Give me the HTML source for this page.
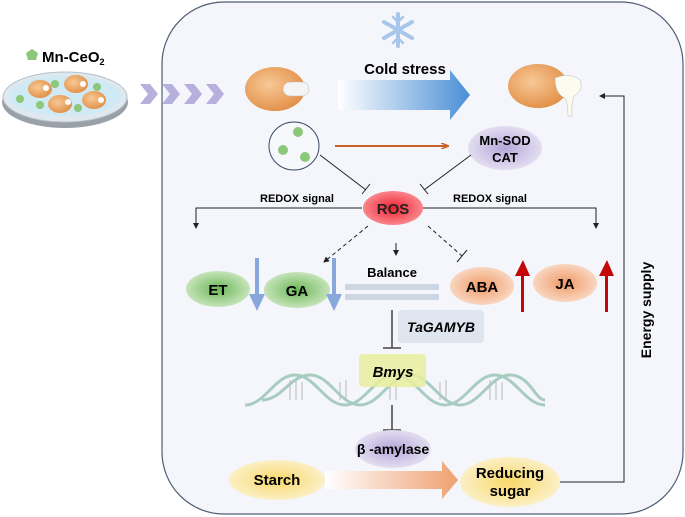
<!DOCTYPE html>
<html><head><meta charset="utf-8"><style>
html,body{margin:0;padding:0;background:#fff}
svg{display:block;font-family:"Liberation Sans",sans-serif;font-weight:bold}
</style></head><body>
<svg width="685" height="517" viewBox="0 0 685 517">
<defs>
<linearGradient id="cold" x1="0" x2="1"><stop offset="0" stop-color="#fff"/><stop offset="1" stop-color="#4a8fd6"/></linearGradient>
<linearGradient id="sug" x1="0" x2="1"><stop offset="0" stop-color="#fff"/><stop offset="1" stop-color="#eea070"/></linearGradient>
<radialGradient id="seed" cx="0.4" cy="0.4" r="0.7"><stop offset="0" stop-color="#f8c896"/><stop offset="1" stop-color="#e08a40"/></radialGradient>
<radialGradient id="grn" cx="0.5" cy="0.5" r="0.6"><stop offset="0" stop-color="#6cb85a"/><stop offset="1" stop-color="#d8eccc"/></radialGradient>
<radialGradient id="org" cx="0.5" cy="0.5" r="0.6"><stop offset="0" stop-color="#ef9a66"/><stop offset="1" stop-color="#fbe2d2"/></radialGradient>
<radialGradient id="yel" cx="0.5" cy="0.5" r="0.6"><stop offset="0" stop-color="#f8d868"/><stop offset="1" stop-color="#fcf4d8"/></radialGradient>
<radialGradient id="pur" cx="0.5" cy="0.5" r="0.6"><stop offset="0" stop-color="#b4a8d8"/><stop offset="1" stop-color="#ece8f6"/></radialGradient>
<radialGradient id="ros" cx="0.5" cy="0.5" r="0.6"><stop offset="0" stop-color="#f02030"/><stop offset="1" stop-color="#fc9aa0"/></radialGradient>
<marker id="ah" markerWidth="6" markerHeight="6" refX="5" refY="3" orient="auto"><path d="M0,0 L6,3 L0,6z" fill="#222"/></marker>
<marker id="oh" markerWidth="8" markerHeight="6" refX="7" refY="3" orient="auto" markerUnits="userSpaceOnUse"><path d="M0,0 L8,3 L0,6" fill="none" stroke="#c8622a" stroke-width="1.5"/></marker>
</defs>
<!-- dish -->
<ellipse cx="65" cy="102" rx="63" ry="26" fill="#9aa0a8"/>
<ellipse cx="65" cy="97" rx="62" ry="25" fill="#dfe8ee" stroke="#b8c0c8"/>
<ellipse cx="65" cy="96" rx="56" ry="20" fill="#cfeaf4"/>
<g fill="url(#seed)">
<ellipse cx="40" cy="89" rx="12" ry="9"/><ellipse cx="76" cy="84" rx="12" ry="9"/>
<ellipse cx="60" cy="104" rx="12" ry="9"/><ellipse cx="94" cy="100" rx="12" ry="9"/></g>
<g fill="#fff"><circle cx="46" cy="88" r="3"/><circle cx="83" cy="84" r="3"/><circle cx="68" cy="102" r="3"/><circle cx="101" cy="100" r="3"/></g>
<g fill="#8cc77a"><circle cx="55" cy="84" r="4"/><circle cx="97" cy="87" r="4"/><circle cx="20" cy="99" r="4"/><circle cx="40" cy="105" r="4"/><circle cx="78" cy="108" r="4"/></g>
<polygon points="32,49 38,53 36,60 28,60 26,53" fill="#8cc77a"/>
<text x="42" y="62" font-size="15">Mn-CeO<tspan font-size="9" dy="3">2</tspan></text>
<!-- panel -->
<rect x="162" y="2" width="521" height="512" rx="62" fill="#f4f6fb" stroke="#4e5c74" stroke-width="1.2"/>
<g fill="#b8b0dc"><path d="M140,84 h10 l8,10 l-8,10 h-10 l8,-10z"/><path d="M162,84 h10 l8,10 l-8,10 h-10 l8,-10z"/><path d="M184,84 h10 l8,10 l-8,10 h-10 l8,-10z"/><path d="M206,84 h10 l8,10 l-8,10 h-10 l8,-10z"/></g>
<!-- snowflake -->
<g stroke="#a8c6ec" stroke-width="4" stroke-linecap="round" fill="none"><line x1="398" y1="14" x2="398" y2="46"/><line x1="384" y1="22" x2="412" y2="38"/><line x1="384" y1="38" x2="412" y2="22"/>
<path d="M393,17 l5,5 l5,-5 M393,43 l5,-5 l5,5" stroke-width="2.5"/></g>
<text x="405" y="74" font-size="15" text-anchor="middle">Cold stress</text>
<path d="M338,80 H450 V70 L470,95 L450,120 V110 H338z" fill="url(#cold)"/>
<!-- seeds -->
<ellipse cx="275" cy="89" rx="30" ry="22" fill="url(#seed)"/>
<path d="M290,82 h12 a7,7 0 0 1 0,14 h-12 a7,7 0 0 1 0,-14z" fill="#f4f4f4" stroke="#bbb" stroke-width=".5"/>
<ellipse cx="538" cy="86" rx="30" ry="22" fill="url(#seed)"/>
<path d="M555,78 q15,-6 25,2 q4,10 -6,16 q-3,8 -2,20 l-4,0 q0,-14 -3,-18 q-10,-4 -10,-20z" fill="#fbfbf0" stroke="#bbb" stroke-width=".5"/>
<!-- circle of pentagons -->
<ellipse cx="294" cy="146" rx="25" ry="24" fill="#f6f8fb" stroke="#3a4a6a"/>
<g fill="#8cc77a"><circle cx="298" cy="132" r="5"/><circle cx="283" cy="150" r="5"/><circle cx="305" cy="157" r="5"/></g>
<line x1="335" y1="146" x2="448" y2="146" stroke="#c8622a" stroke-width="2" marker-end="url(#oh)"/>
<ellipse cx="505" cy="148" rx="37" ry="22" fill="url(#pur)"/>
<text x="505" y="145" font-size="13" text-anchor="middle">Mn-SOD</text>
<text x="505" y="162" font-size="13" text-anchor="middle">CAT</text>
<g stroke="#222" stroke-width="1" fill="none">
<line x1="320" y1="155" x2="366" y2="190"/><line x1="362" y1="194" x2="370" y2="184"/>
<line x1="471" y1="155" x2="424" y2="190"/><line x1="420" y1="184" x2="428" y2="194"/>
<polyline points="362,208 196,208 196,228" marker-end="url(#ah)"/>
<polyline points="422,208 596,208 596,228" marker-end="url(#ah)"/>
<line x1="368" y1="226" x2="324" y2="262" stroke-dasharray="4,3" marker-end="url(#ah)"/>
<line x1="396" y1="243" x2="396" y2="255" marker-end="url(#ah)"/>
<line x1="428" y1="226" x2="462" y2="256" stroke-dasharray="4,3"/><line x1="457" y1="262" x2="467" y2="250"/>
<line x1="392" y1="310" x2="392" y2="348" stroke="#444" stroke-width="1.5"/><line x1="383" y1="348" x2="401" y2="348" stroke="#444" stroke-width="1.5"/>
<line x1="392" y1="405" x2="392" y2="430" stroke="#444" stroke-width="1.5"/><line x1="383" y1="430" x2="401" y2="430" stroke="#444" stroke-width="1.5"/>
<polyline points="560,482 624,482 624,96 600,96" marker-end="url(#ah)"/>
</g>
<text x="297" y="202" font-size="11" text-anchor="middle">REDOX signal</text>
<text x="490" y="202" font-size="11" text-anchor="middle">REDOX signal</text>
<ellipse cx="393" cy="208" rx="30" ry="17" fill="url(#ros)"/>
<text x="393" y="214" font-size="15" text-anchor="middle" fill="#222">ROS</text>
<!-- hormones -->
<ellipse cx="218" cy="289" rx="32" ry="18" fill="url(#grn)"/>
<text x="218" y="295" font-size="15" text-anchor="middle">ET</text>
<ellipse cx="297" cy="290" rx="33" ry="18" fill="url(#grn)"/>
<text x="297" y="296" font-size="15" text-anchor="middle">GA</text>
<path d="M255,258 h4 v36 h6 l-8,17 l-8,-17 h6z" fill="#88a8dc"/>
<path d="M332,258 h4 v36 h6 l-8,17 l-8,-17 h6z" fill="#88a8dc"/>
<text x="392" y="277" font-size="13" text-anchor="middle">Balance</text>
<rect x="345" y="284" width="94" height="6" fill="#cdd7e4"/>
<rect x="345" y="294" width="94" height="6" fill="#cdd7e4"/>
<ellipse cx="482" cy="286" rx="32" ry="19" fill="url(#org)"/>
<text x="482" y="292" font-size="15" text-anchor="middle">ABA</text>
<path d="M521,312 h3 v-36 h6 l-7,-16 l-8,16 h6z" fill="#c40808"/>
<ellipse cx="565" cy="283" rx="32" ry="19" fill="url(#org)"/>
<text x="565" y="289" font-size="15" text-anchor="middle">JA</text>
<path d="M605,312 h3 v-36 h6 l-7,-16 l-8,16 h6z" fill="#c40808"/>
<rect x="398" y="310" width="86" height="33" rx="4" fill="#dfe5ee"/>
<text x="441" y="332" font-size="14" font-style="italic" text-anchor="middle">TaGAMYB</text>
<!-- DNA -->
<g fill="none" stroke="#a8ccc0" stroke-width="3">
<path d="M245,405 C265,405 275,375 295,375 S325,405 345,405 S375,375 395,375 S425,405 445,405 S475,375 495,375 S525,405 545,405"/>
<path d="M262,400 C282,400 290,375 310,375 S340,405 360,405 S390,375 410,375 S440,405 460,405 S490,375 510,375 S535,400 545,400"/>
</g>
<g stroke="#b8b8b8" stroke-width="1"><path d="M290,380v20M296,380v20M302,382v18M340,382v18M346,380v20M390,380v20M396,380v20M440,382v18M446,380v20M490,380v20M496,380v20M502,382v18"/></g>
<rect x="359" y="354" width="67" height="33" rx="4" fill="#e8ee9c" opacity=".85"/>
<text x="393" y="377" font-size="15" font-style="italic" text-anchor="middle">Bmys</text>
<ellipse cx="393" cy="449" rx="38" ry="19" fill="url(#pur)"/>
<text x="393" y="454" font-size="14" text-anchor="middle">β -amylase</text>
<ellipse cx="277" cy="480" rx="48" ry="20" fill="url(#yel)"/>
<text x="277" y="485" font-size="15" text-anchor="middle">Starch</text>
<path d="M325,471 H442 V461 L458,480 L442,499 V489 H325z" fill="url(#sug)"/>
<ellipse cx="510" cy="482" rx="50" ry="25" fill="url(#yel)"/>
<text x="510" y="478" font-size="15" text-anchor="middle">Reducing</text>
<text x="510" y="496" font-size="15" text-anchor="middle">sugar</text>
<text transform="translate(651,310) rotate(-90)" font-size="14" text-anchor="middle">Energy supply</text>
</svg>
</body></html>
